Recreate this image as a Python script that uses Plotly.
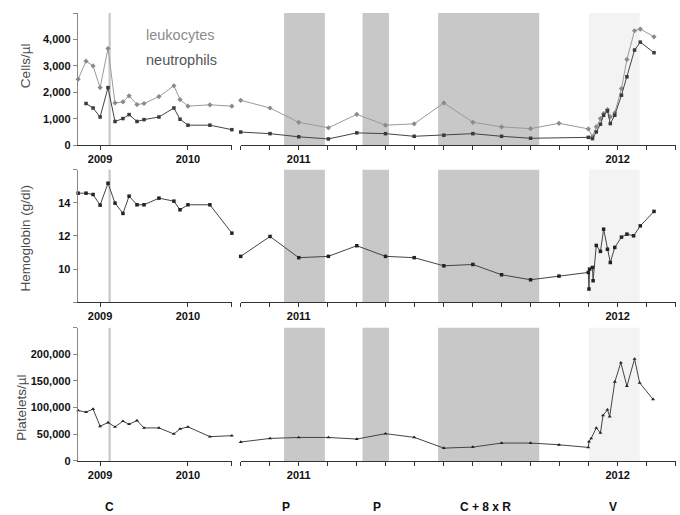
import plotly.graph_objects as go

W, H = 680, 515
H_EFF = 508  # measured effective vertical extent of the rendered paper

# ---------------- data (decimal years) ----------------
t_left = [2008.75, 2008.84, 2008.92, 2009.0, 2009.09, 2009.17, 2009.26, 2009.33,
          2009.42, 2009.5, 2009.67, 2009.84, 2009.91, 2010.0, 2010.25, 2010.5]
leuko_left = [2500, 3180, 3000, 2180, 3660, 1600, 1640, 1870, 1540, 1580, 1840,
              2250, 1730, 1480, 1530, 1480]
t_neutro_left = t_left[1:]
neutro_left = [1580, 1410, 1070, 2180, 900, 1010, 1160, 900, 970, 1070, 1410,
               985, 760, 760, 590]
hb_left = [14.58, 14.58, 14.5, 13.86, 15.18, 13.98, 13.36, 14.4, 13.88, 13.88,
           14.28, 14.1, 13.58, 13.88, 13.88, 12.17]
plt_left = [94700, 91500, 97200, 65000, 72000, 63800, 74500, 68800, 75800, 61900,
            61900, 50500, 60000, 63800, 45500, 47300]

t_leuko_right = [2010.818, 2010.91, 2011.0, 2011.093, 2011.182, 2011.272, 2011.362,
                 2011.455, 2011.546, 2011.636, 2011.727, 2011.816, 2011.908,
                 2011.921, 2011.933, 2011.946, 2011.956, 2011.968, 2011.977,
                 2011.991, 2012.012, 2012.029, 2012.053, 2012.071, 2012.114]
leuko_right = [1700, 1410, 870, 660, 1170, 760, 810, 1600, 870, 695, 630, 830, 620,
               330, 700, 1011, 1200, 1350, 1073, 1225, 2146, 3245, 4330, 4394, 4100]
t_neutro_right = [2010.818, 2010.91, 2011.0, 2011.093, 2011.182, 2011.272, 2011.362,
                  2011.455, 2011.546, 2011.636, 2011.727, 2011.908,
                  2011.921, 2011.933, 2011.946, 2011.956, 2011.968, 2011.977,
                  2011.991, 2012.012, 2012.029, 2012.053, 2012.071, 2012.114]
neutro_right = [500, 440, 320, 240, 470, 440, 340, 380, 440, 340, 265, 300,
                253, 505, 795, 1136, 1300, 820, 1136, 1894, 2590, 3600, 3900, 3500]

t_hb_right = [2010.818, 2010.91, 2011.0, 2011.093, 2011.182, 2011.272, 2011.362,
              2011.455, 2011.546, 2011.636, 2011.727, 2011.816, 2011.908,
              2011.910, 2011.912, 2011.921, 2011.923, 2011.933, 2011.946, 2011.956,
              2011.968, 2011.977, 2011.991, 2012.012, 2012.029, 2012.05, 2012.071,
              2012.114]
hb_right = [10.77, 11.97, 10.69, 10.77, 11.41, 10.77, 10.69, 10.2, 10.28, 9.66, 9.36,
            9.58, 9.8, 8.8, 10.0, 10.1, 9.3, 11.43, 11.07, 12.41, 11.2, 10.4, 11.31,
            11.93, 12.11, 12.01, 12.61, 13.48]

t_plt_right = [2010.818, 2010.91, 2011.0, 2011.093, 2011.182, 2011.272, 2011.362,
               2011.455, 2011.546, 2011.636, 2011.727, 2011.816, 2011.908,
               2011.910, 2011.917, 2011.933, 2011.946, 2011.954, 2011.968, 2011.975,
               2011.991, 2012.010, 2012.029, 2012.053, 2012.069, 2012.111]
plt_right = [35400, 42200, 44000, 44000, 41000, 51100, 44200, 24000, 25900, 33500,
             33500, 30300, 25300, 36000, 42200, 61900, 52400, 85200, 96000, 83300,
             148300, 184300, 140200, 191300, 146400, 115500]

# treatment periods (right axis, decimal years)
periods = [(2010.954, 2011.082), (2011.200, 2011.283), (2011.437, 2011.754)]
period_v = (2011.910, 2012.069)
period_c = (2009.095, 2009.122)
period_labels = ["C", "P", "P", "C + 8 x R", "V"]
period_label_x = [2009.105, 2010.96, 2011.245, 2011.585, 2011.985]

y_titles = ["Cells/µl", "Hemoglobin (g/dl)", "Platelets/µl"]
y_ranges = [[0, 5000], [8, 16], [0, 250000]]
y_ticks = [[0, 1000, 2000, 3000, 4000, 5000], [8, 10, 12, 14, 16],
           [0, 50000, 100000, 150000, 200000, 250000]]
y_ticktext = [["0", "1,000", "2,000", "3,000", "4,000", ""],
              ["", "10", "12", "14", ""],
              ["0", "50,000", "100,000", "150,000", "200,000", ""]]

left_ticks = [2009, 2010, 2010.5]
left_ticktext = ["2009", "2010", ""]
right_ticks = [2011 + k / 11 for k in range(-2, 14)]
right_ticktext = ["2011" if k == 0 else ("2012" if k == 11 else "") for k in range(-2, 14)]

# ---------------- layout geometry (pixels) ----------------
def fx(px):
    return px / W

def fy(px):
    return 1 - px / H_EFF

x_left_dom = [fx(77.7), fx(232.3)]
x_right_dom = [fx(240.7), fx(675.7)]
row_px = [(13, 145), (169.3, 301.7), (327, 460)]

fig = go.Figure()
tickfont = dict(family="Liberation Sans, Arial", size=11, color="#111", weight="bold")

layout = dict(width=W, height=H, autosize=False, margin=dict(l=0, r=0, t=0, b=0),
              paper_bgcolor="white", plot_bgcolor="rgba(0,0,0,0)",
              showlegend=False, shapes=[], annotations=[])

for i in range(3):
    nl, nr = 2 * i + 1, 2 * i + 2
    sl = "" if nl == 1 else str(nl)
    sr = str(nr)
    ydom = [fy(row_px[i][1]), fy(row_px[i][0])]
    layout["xaxis" + sl] = dict(domain=x_left_dom, anchor="y" + sl, range=[2008.745, 2010.505],
                                showline=True, linecolor="#333", linewidth=1,
                                ticks="outside", ticklen=4, tickcolor="#333",
                                tickvals=left_ticks, ticktext=left_ticktext,
                                tickfont=tickfont, showgrid=False, zeroline=False)
    layout["xaxis" + sr] = dict(domain=x_right_dom, anchor="y" + sr, range=[2010.818, 2012.182],
                                showline=True, linecolor="#333", linewidth=1,
                                ticks="outside", ticklen=4, tickcolor="#333",
                                tickvals=right_ticks, ticktext=right_ticktext,
                                tickfont=tickfont, showgrid=False, zeroline=False)
    layout["yaxis" + sl] = dict(domain=ydom, anchor="x" + sl, range=y_ranges[i],
                                showline=True, linecolor="#888", linewidth=1,
                                ticks="outside", ticklen=4, tickcolor="#888",
                                tickvals=y_ticks[i], ticktext=y_ticktext[i],
                                tickfont=tickfont, showgrid=False, zeroline=False)
    layout["yaxis" + sr] = dict(domain=ydom, anchor="x" + sr, range=y_ranges[i],
                                visible=False, showgrid=False, zeroline=False)

    # shading
    for (a, b) in periods:
        layout["shapes"].append(dict(type="rect", xref="x" + sr, yref="y" + sr + " domain",
                                     x0=a, x1=b, y0=0, y1=1, fillcolor="#c8c8c8",
                                     line=dict(width=0), layer="below"))
    layout["shapes"].append(dict(type="rect", xref="x" + sr, yref="y" + sr + " domain",
                                 x0=period_v[0], x1=period_v[1], y0=0, y1=1,
                                 fillcolor="#f3f3f3", line=dict(width=0), layer="below"))
    layout["shapes"].append(dict(type="rect", xref="x" + sl, yref="y" + sl + " domain",
                                 x0=period_c[0], x1=period_c[1], y0=0, y1=1,
                                 fillcolor="#cbcbcb", line=dict(width=0), layer="below"))

    layout["annotations"].append(dict(text=y_titles[i], xref="paper", yref="paper",
                                      x=fx([25, 25, 22][i]),
                                      y=fy([66, 238, 407][i]),
                                      textangle=-90, showarrow=False,
                                      xanchor="center", yanchor="middle",
                                      font=dict(family="Liberation Sans, Arial", size=13.5,
                                                color="#4a4a4a")))

fig.update_layout(**layout)

def add(x, y, axis_n, color, lcolor, symbol, size):
    s = "" if axis_n == 1 else str(axis_n)
    fig.add_trace(go.Scatter(x=x, y=y, xaxis="x" + s, yaxis="y" + s, mode="lines+markers",
                             line=dict(color=lcolor, width=1),
                             marker=dict(color=color, symbol=symbol, size=size),
                             cliponaxis=False, hoverinfo="skip"))

add(t_left, leuko_left, 1, "#8a8a8a", "#9a9a9a", "diamond", 4)
add(t_leuko_right, leuko_right, 2, "#8a8a8a", "#9a9a9a", "diamond", 4)
add(t_neutro_left, neutro_left, 1, "#3a3a3a", "#444", "square", 3.5)
add(t_neutro_right, neutro_right, 2, "#3a3a3a", "#444", "square", 3.5)
add(t_left, hb_left, 3, "#222", "#444", "square", 3.5)
add(t_hb_right, hb_right, 4, "#222", "#444", "square", 3.5)
add(t_left, plt_left, 5, "#222", "#444", "triangle-up", 3.5)
add(t_plt_right, plt_right, 6, "#222", "#444", "triangle-up", 3.5)

# legend-like labels
fig.add_annotation(text="leukocytes", xref="paper", yref="paper", x=fx(144), y=fy(35),
                   xanchor="left", yanchor="middle", showarrow=False,
                   font=dict(family="Liberation Sans, Arial", size=14.5, color="#8c8c8c"))
fig.add_annotation(text="neutrophils", xref="paper", yref="paper", x=fx(144), y=fy(60),
                   xanchor="left", yanchor="middle", showarrow=False,
                   font=dict(family="Liberation Sans, Arial", size=14.5, color="#555"))

# period labels at the bottom
for k, (lab, xv) in enumerate(zip(period_labels, period_label_x)):
    xref = "x5" if k == 0 else "x6"
    fig.add_annotation(text=lab, xref=xref, yref="paper", x=xv, y=fy(506),
                       xanchor="center", yanchor="middle", showarrow=False,
                       font=dict(family="Liberation Sans, Arial", size=12, color="#111",
                                 weight="bold"))

fig.write_html("out.html",
               config={"displayModeBar": False, "responsive": False},
               post_script="document.body.style.margin='0';document.body.style.overflow='hidden';")
